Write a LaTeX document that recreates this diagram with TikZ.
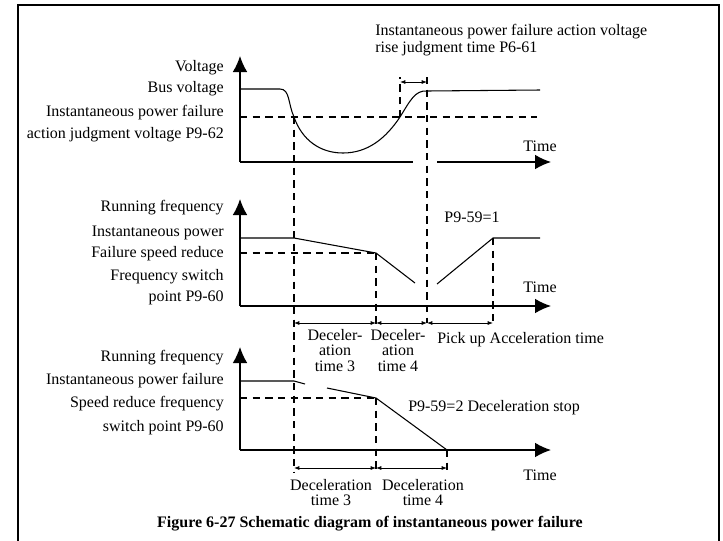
\documentclass[tikz,border=0pt]{standalone}
\usepackage{fontspec}
\setmainfont{Liberation Serif}
\usetikzlibrary{arrows.meta,positioning}
\tikzset{
  lbl/.style={font=\fontsize{12}{14}\selectfont, inner sep=0pt},
  ylbl/.style={lbl, anchor=east},
  axisline/.style={line width=1pt, -{Latex[length=12pt,width=11pt]}},
  curve/.style={line width=0.8pt},
  guide/.style={line width=1.4pt, dash pattern=on 5.5pt off 4pt},
  dimarrow/.style={line width=0.6pt, {Latex[length=4pt,width=3pt]}-{Latex[length=4pt,width=3pt]}},
  dimlbl/.style={lbl, align=center, anchor=north, font=\fontsize{12}{11.5}\selectfont}
}

\begin{document}
\begin{tikzpicture}[x=0.75pt, y=-0.75pt]
  \useasboundingbox (0,0) rectangle (723,540);
  \draw[line width=1.1pt] (18,545) -- (18,5) -- (719,5) -- (719,545);

  % voltage panel
  \coordinate (vo) at (240,162);
  \coordinate (vgapl) at (413,162);
  \coordinate (vgapr) at (437,162);
  \draw[axisline] (vo) -- (240,56);
  \draw[line width=1pt] (vo) -- (vgapl);
  \draw[axisline] (vgapr) -- (551,162);
  \node[ylbl] (volt) at (224,68) {Voltage};
  \node[ylbl] (bus) at (224,89) {Bus voltage};
  \node[ylbl] (thr1) at (224,113) {Instantaneous power failure};
  \node[ylbl] (thr2) at (224,135) {action judgment voltage P9-62};
  \node[lbl] (time1) at (540,146) {Time};
  \node[lbl, anchor=west, align=left, font=\fontsize{12}{12.75}\selectfont] (rise) at (375,40)
    {Instantaneous power failure action voltage\\rise judgment time P6-61};

  \coordinate (fall) at (294,117);
  \coordinate (back) at (400,117);
  \coordinate (up) at (427,91);
  \draw[guide] (240,117) -- (537,117);
  \draw[curve] (240,89) -- (280,89) .. controls (290,89) and (288,104) .. (fall)
    .. controls (302,140) and (320,153) .. (343,153)
    .. controls (368,153) and (386,138) .. (back)
    .. controls (410,101) and (415,90) .. (up) -- (540,90);
  \draw[guide] (back) -- (400,77);
  \draw[guide] (427,77) -- (427,323);
  \draw[dimarrow] (400,82) -- (427,82);

  % pick up panel
  \coordinate (fo) at (240,306);
  \draw[axisline] (fo) -- (240,199);
  \draw[axisline] (fo) -- (551,306);
  \node[ylbl] (run1) at (224,208) {Running frequency};
  \node[ylbl] (ip) at (224,233) {Instantaneous power};
  \node[ylbl] (fsr) at (224,254) {Failure speed reduce};
  \node[ylbl] (fsw) at (224,277) {Frequency switch};
  \node[ylbl] (pt1) at (224,298) {point P9-60};
  \node[lbl] (time2) at (540,287) {Time};
  \node[lbl] (p1) at (472,217) {P9-59=1};

  \coordinate (sw1) at (376,253);
  \coordinate (top1) at (493,238);
  \draw[guide] (240,253) -- (sw1);
  \draw[curve] (240,238) -- (294,238) -- (sw1) -- (415,283);
  \draw[curve] (437,284) -- (top1) -- (540,238);
  \draw[guide] (294,117) -- (294,472);
  \draw[guide] (sw1) -- (376,324);
  \draw[guide] (top1) -- (493,324);
  \draw[dimarrow] (294,323) -- (376,323);
  \draw[dimarrow] (376,323) -- (427,323);
  \draw[dimarrow] (427,323) -- (493,323);
  \node[dimlbl] (d3a) at (335,329) {Deceler-\\ation\\time 3};
  \node[dimlbl] (d4a) at (398,329) {Deceler-\\ation\\time 4};
  \node[lbl, anchor=west] (acc) at (437,340) {Pick up Acceleration time};

  % deceleration stop panel
  \coordinate (so) at (240,450);
  \draw[axisline] (so) -- (240,347);
  \draw[axisline] (so) -- (551,450);
  \node[ylbl] (run2) at (224,358) {Running frequency};
  \node[ylbl] (ipf) at (224,381) {Instantaneous power failure};
  \node[ylbl] (srf) at (224,404) {Speed reduce frequency};
  \node[ylbl] (pt2) at (224,428) {switch point P9-60};
  \node[lbl] (time3) at (540,475) {Time};
  \node[lbl, anchor=west] (p2) at (408,408) {P9-59=2 Deceleration stop};

  \coordinate (sw2) at (376,398);
  \coordinate (stop) at (447,450);
  \draw[guide] (240,398) -- (sw2);
  \draw[curve] (240,381) -- (294,381) -- (305,384);
  \draw[curve] (327,388) -- (sw2) -- (stop);
  \draw[guide] (sw2) -- (376,473);
  \draw[guide] (stop) -- (447,472);
  \draw[dimarrow] (294,468) -- (376,468);
  \draw[dimarrow] (376,468) -- (447,468);
  \node[dimlbl] (d3b) at (331,479) {Deceleration\\time 3};
  \node[dimlbl] (d4b) at (423,479) {Deceleration\\time 4};

  \node[lbl, font=\bfseries\fontsize{12}{14}\selectfont] (cap) at (370,524)
    {Figure 6-27 Schematic diagram of instantaneous power failure};
\end{tikzpicture}
\end{document}
